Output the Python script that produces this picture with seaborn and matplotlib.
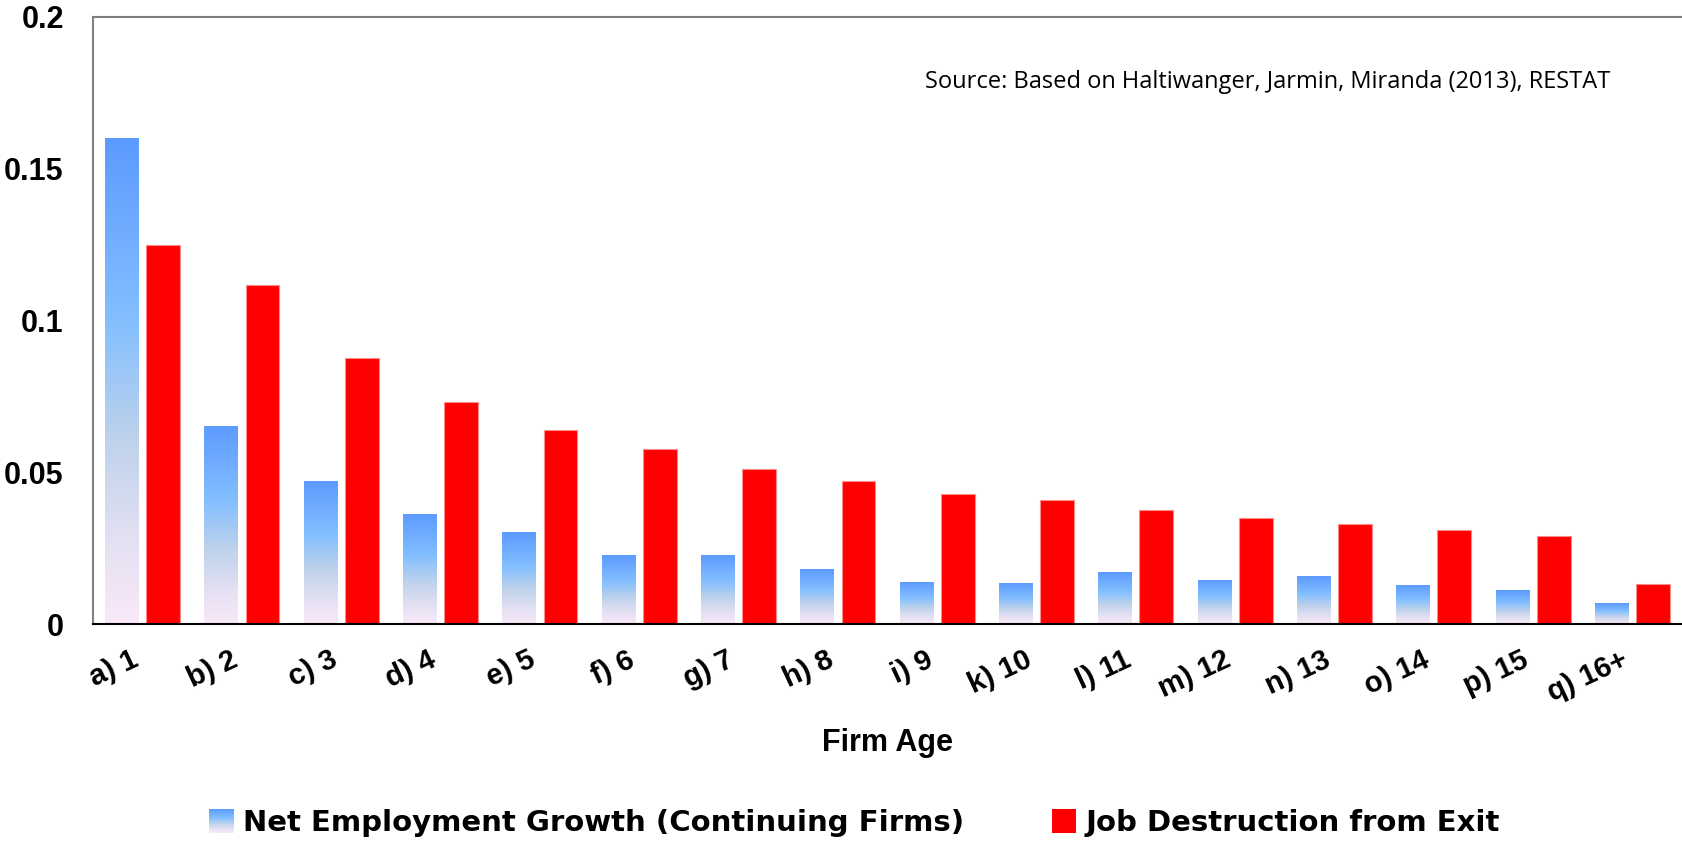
import numpy as np
import pandas as pd
import matplotlib
matplotlib.use("Agg")
import matplotlib.pyplot as plt
import matplotlib.transforms as mtransforms
import seaborn as sns
from matplotlib.colors import LinearSegmentedColormap
from matplotlib.patches import Rectangle, Patch
from matplotlib.legend_handler import HandlerBase

# ------------------ data ------------------
ages = ["a) 1", "b) 2", "c) 3", "d) 4", "e) 5", "f) 6", "g) 7", "h) 8", "i) 9",
        "k) 10", "l) 11", "m) 12", "n) 13", "o) 14", "p) 15", "q) 16+"]
net_growth = [0.160, 0.065, 0.047, 0.036, 0.030, 0.0225, 0.0225, 0.018, 0.0137,
              0.0133, 0.017, 0.0144, 0.0155, 0.0128, 0.0112, 0.0066]
exit_destruction = [0.125, 0.1116, 0.0875, 0.0731, 0.0639, 0.0575, 0.0511, 0.0472, 0.0427,
                    0.0409, 0.0374, 0.0349, 0.0329, 0.0309, 0.0291, 0.0132]
series = ["Net Employment Growth (Continuing Firms)", "Job Destruction from Exit"]
yticks = [0, 0.05, 0.1, 0.15, 0.2]
ytick_labels = ["0", "0.05", "0.1", "0.15", "0.2"]

df = pd.DataFrame({
    "age": ages * 2,
    "value": net_growth + exit_destruction,
    "series": [series[0]] * len(ages) + [series[1]] * len(ages),
})

# gradient for blue bars: 0 = bottom (pale pink), 1 = top (blue)
grad = LinearSegmentedColormap.from_list("grad", [
    (0.0, "#fae8f8"),
    (0.18, "#e2e0f2"),
    (0.38, "#bed2eb"),
    (0.62, "#84bfff"),
    (1.0, "#5c9bff"),
])

# ------------------ plot ------------------
fig = plt.figure(figsize=(16.82, 8.42), dpi=100)
ax = fig.add_axes([93 / 1682, 1 - 624 / 842, 1 - 93 / 1682, (624 - 17) / 842])

sns.barplot(data=df, x="age", y="value", hue="series", hue_order=series,
            palette=["#7fb5ff", "#ff0000"], width=0.83, gap=0.18,
            legend=False, ax=ax, saturation=1)

# red bars: faint light edge
for bar in ax.containers[1]:
    bar.set_edgecolor("#ff8a8a")
    bar.set_linewidth(0.8)

# blue bars: replace fill by vertical gradient
g = np.linspace(0, 1, 256).reshape(-1, 1)
for bar in ax.containers[0]:
    x, w, h = bar.get_x(), bar.get_width(), bar.get_height()
    bar.set_facecolor("none")
    bar.set_edgecolor("none")
    ax.imshow(g, cmap=grad, extent=[x, x + w, 0, h], origin="lower",
              aspect="auto", interpolation="bilinear", zorder=2)

ax.set_xlim(-0.5, len(ages) - 0.5)
ax.set_ylim(0, 0.2)
ax.set_yticks(yticks)
ax.set_yticklabels(ytick_labels)
ax.tick_params(axis="y", length=0, pad=21, labelsize=22)
ax.tick_params(axis="x", length=0, pad=22, labelsize=21)
for t in ax.get_yticklabels():
    t.set_fontweight("bold")
    t.set_fontfamily("Liberation Sans")
shift = mtransforms.ScaledTranslation(-6 / 100, -4 / 100, fig.dpi_scale_trans)
for t in ax.get_xticklabels():
    t.set_fontweight("bold")
    t.set_fontfamily("Liberation Sans")
    t.set_rotation(25)
    t.set_ha("right")
    t.set_va("center")
    t.set_rotation_mode("anchor")
    t.set_transform(t.get_transform() + shift)

ax.set_ylabel("")
ax.set_xlabel("Firm Age", fontsize=22, fontweight="bold", family="Liberation Sans")
ax.xaxis.set_label_coords(0.5, (624 - 743) / 607)
ax.xaxis.label.set_va("center")

for side in ["left", "top"]:
    ax.spines[side].set_color("#808080")
    ax.spines[side].set_linewidth(1.5)
ax.spines["bottom"].set_color("black")
ax.spines["bottom"].set_linewidth(1.5)
ax.spines["right"].set_visible(False)

ax.text(925 / 1682, 1 - 82 / 842, "Source: Based on Haltiwanger, Jarmin, Miranda (2013), RESTAT",
        transform=fig.transFigure, fontsize=17, family="Open Sans", ha="left", va="center")


class GradHandler(HandlerBase):
    def create_artists(self, legend, orig, xd, yd, w, h, fontsize, trans):
        n = 24
        arts = []
        for i in range(n):
            r = Rectangle((-xd, -yd + h * i / n), w, h / n * 1.05,
                          facecolor=grad((i + 0.5) / n), edgecolor="none", transform=trans)
            arts.append(r)
        return arts


h_blue = Patch(facecolor="#7fb5ff")
h_red = Patch(facecolor="#ff0000")
fig.legend([h_blue, h_red], series, handler_map={h_blue: GradHandler()},
           loc="center", bbox_to_anchor=(0.508, 1 - 823 / 842), ncol=2, frameon=False,
           handlelength=0.85, handleheight=0.85, handletextpad=0.3, columnspacing=3.0,
           prop={"family": "DejaVu Sans", "weight": "bold", "size": 21})

fig.savefig("out.png", dpi=100)
